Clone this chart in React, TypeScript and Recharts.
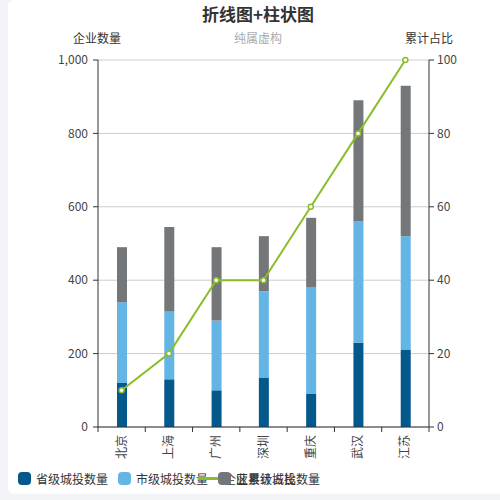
import {
  ComposedChart,
  Bar,
  Line,
  XAxis,
  YAxis,
  CartesianGrid,
} from "recharts";

const cities = ["北京", "上海", "广州", "深圳", "重庆", "武汉", "江苏"];
const provincial = [120, 130, 100, 135, 90, 230, 210];
const municipal = [220, 185, 190, 235, 290, 330, 310];
const county = [150, 230, 200, 150, 190, 330, 410];
const cumulativeShare = [10, 20, 40, 40, 60, 80, 100];

const countTicks = [0, 200, 400, 600, 800, 1000];
const shareTicks = [0, 20, 40, 60, 80, 100];

const SERIES = [
  { key: "provincial", name: "省级城投数量", color: "#03588C" },
  { key: "municipal", name: "市级城投数量", color: "#63B5E6" },
  { key: "county", name: "区县级城投数量", color: "#74777A" },
];
const LINE_COLOR = "#8BBD2A";
const LINE_NAME = "企业累计占比";

const FONT = "'Noto Sans CJK SC', 'Noto Sans', sans-serif";
const PLOT_LEFT = 98;
const PLOT_RIGHT = 429;
const PLOT_BOTTOM = 427;
const BAND = (PLOT_RIGHT - PLOT_LEFT) / cities.length;

const rows = cities.map((city, i) => ({
  city,
  provincial: provincial[i],
  municipal: municipal[i],
  county: county[i],
  share: cumulativeShare[i],
}));

function CityTick(props: any) {
  const { x, payload, index } = props;
  const ty = PLOT_BOTTOM + 8;
  return (
    <g>
      <line x1={x - BAND / 2} x2={x - BAND / 2} y1={PLOT_BOTTOM} y2={PLOT_BOTTOM + 5} stroke="#333" />
      {index === cities.length - 1 && (
        <line x1={x + BAND / 2} x2={x + BAND / 2} y1={PLOT_BOTTOM} y2={PLOT_BOTTOM + 5} stroke="#333" />
      )}
      <text
        x={x}
        y={ty}
        dy={4}
        transform={`rotate(-90, ${x}, ${ty})`}
        textAnchor="end"
        fontSize={12}
        fill="#444"
        fontFamily={FONT}
      >
        {payload.value}
      </text>
    </g>
  );
}

const text = (left: number, top: number, content: string, style: any = {}) => (
  <div
    style={{
      position: "absolute",
      left,
      top,
      transform: "translate(-50%, -50%)",
      fontSize: 12,
      color: "#333",
      whiteSpace: "nowrap",
      ...style,
    }}
  >
    {content}
  </div>
);

export default function App() {
  const axisTick = { fontSize: 12, fill: "#444", fontFamily: FONT };
  return (
    <div
      style={{
        position: "absolute",
        left: 0,
        top: 0,
        width: 500,
        height: 500,
        background: "#F3F4F8",
        overflow: "hidden",
        fontFamily: FONT,
      }}
    >
      <div
        style={{
          position: "absolute",
          left: 8,
          top: 0,
          width: 500,
          height: 494,
          background: "#fff",
          borderRadius: 6,
        }}
      />
      {text(258, 13, "折线图+柱状图", { fontSize: 17, fontWeight: "bold", color: "#333" })}
      {text(97, 37, "企业数量")}
      {text(258, 37, "纯属虚构", { color: "#aaa" })}
      {text(429, 37, "累计占比")}
      <div style={{ position: "absolute", left: 0, top: 0 }}>
        <ComposedChart
          width={500}
          height={500}
          data={rows}
          margin={{ top: 60, right: 21, bottom: 0, left: 48 }}
        >
          <CartesianGrid vertical={false} stroke="#ccc" yAxisId="left" />
          <XAxis
            dataKey="city"
            height={73}
            interval={0}
            axisLine={{ stroke: "#333" }}
            tickLine={false}
            tick={<CityTick />}
          />
          <YAxis
            yAxisId="left"
            width={50}
            domain={[0, 1000]}
            ticks={countTicks}
            tickFormatter={(v: number) => v.toLocaleString("en-US")}
            axisLine={{ stroke: "#333" }}
            tickLine={{ stroke: "#333" }}
            tickSize={5}
            tickMargin={5}
            tick={axisTick}
            interval={0}
          />
          <YAxis
            yAxisId="right"
            orientation="right"
            width={50}
            domain={[0, 100]}
            ticks={shareTicks}
            axisLine={{ stroke: "#333" }}
            tickLine={{ stroke: "#333" }}
            tickSize={5}
            tickMargin={3}
            tick={axisTick}
            interval={0}
          />
          {SERIES.map((s) => (
            <Bar
              key={s.key}
              yAxisId="left"
              dataKey={s.key}
              name={s.name}
              stackId="a"
              fill={s.color}
              barSize={10}
              isAnimationActive={false}
            />
          ))}
          <Line
            yAxisId="right"
            type="linear"
            dataKey="share"
            name={LINE_NAME}
            stroke={LINE_COLOR}
            strokeWidth={2}
            dot={{ r: 2.5, fill: "#fff", stroke: LINE_COLOR, strokeWidth: 1.5 }}
            isAnimationActive={false}
          />
        </ComposedChart>
      </div>
      {/* legend, items overlap as in the original */}
      <div style={{ position: "absolute", left: 18, top: 472, width: 13, height: 13, borderRadius: 4, background: SERIES[0].color }} />
      <div style={{ position: "absolute", left: 36, top: 470, fontSize: 12, color: "#333" }}>{SERIES[0].name}</div>
      <div style={{ position: "absolute", left: 118, top: 472, width: 13, height: 13, borderRadius: 4, background: SERIES[1].color }} />
      <div style={{ position: "absolute", left: 136, top: 470, fontSize: 12, color: "#333" }}>{SERIES[1].name}</div>
      <div style={{ position: "absolute", left: 224, top: 470, fontSize: 12, color: "#333" }}>{LINE_NAME}</div>
      <div style={{ position: "absolute", left: 198, top: 477, width: 20, height: 3, background: LINE_COLOR }} />
      <div style={{ position: "absolute", left: 218, top: 472, width: 13, height: 13, borderRadius: 4, background: SERIES[2].color }} />
      <div style={{ position: "absolute", left: 236, top: 470, fontSize: 12, color: "#333" }}>{SERIES[2].name}</div>
    </div>
  );
}
